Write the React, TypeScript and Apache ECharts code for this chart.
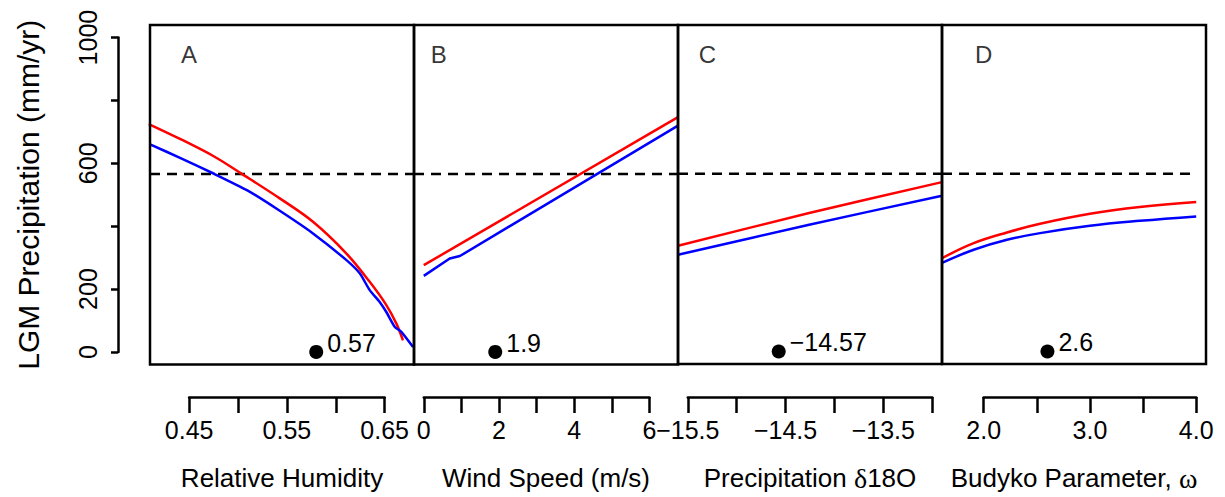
import React, { useEffect, useRef } from "react";
import * as echarts from "echarts";

// ---------- data ----------
const panelLetters = ["A", "B", "C", "D"];
const letterX = [0.45, 0.4, -15.3, 2.0];
const letterY = 945;

const xTitles = [
  "Relative Humidity",
  "Wind Speed (m/s)",
  "Precipitation {g|δ}18O",
  "Budyko Parameter, {g|ω}",
];

const xMin = [0.41, -0.26, -15.6, 1.608];
const xMax = [0.68, 6.76, -12.9, 4.092];

const tickMin = [0.45, 0, -15.5, 2.0];
const tickMax = [0.65, 6, -13.0, 4.0];
const tickStep = [0.05, 1, 0.5, 0.5];
const labeledTicks = [
  [0.45, 0.55, 0.65],
  [0, 2, 4, 6],
  [-15.5, -14.5, -13.5],
  [2, 3, 4],
];
const labeledTickText = [
  ["0.45", "0.55", "0.65"],
  ["0", "2", "4", "6"],
  ["\u221215.5", "\u221214.5", "\u221213.5"],
  ["2.0", "3.0", "4.0"],
];

const yMin = -40;
const yMax = 1040;
const yTickMin = 0;
const yTickMax = 1000;
const yTickStep = 200;
const yLabeled = [0, 200, 600, 1000];
const yTitle = "LGM Precipitation (mm/yr)";

const threshold = 566;
const dashStart = [0.41, -0.26, -15.6, 1.608];
const dashEnd = [0.68, 6.76, -12.9, 4.0];

const redA = [
  [0.4087, 725], [0.4418, 676], [0.476, 621], [0.5031, 568], [0.5427, 488.5],
  [0.5767, 414], [0.6109, 313], [0.6347, 223], [0.6517, 149], [0.662, 90],
  [0.6687, 37],
];
const blueA = [
  [0.4095, 661], [0.4418, 616], [0.476, 566], [0.51, 513], [0.5427, 449],
  [0.5767, 377], [0.6109, 292], [0.6245, 250], [0.6347, 196.5], [0.6449, 159],
  [0.6517, 127], [0.6602, 80], [0.667, 64], [0.679, 16],
];
const redB = [[0, 276], [6.76, 747]];
const blueB = [[0, 242], [0.69, 297], [0.96, 305], [6.76, 720]];
const redC = [[-15.6, 336.6], [-14.259, 440.8], [-12.9, 539.5]];
const blueC = [[-15.6, 308], [-14.259, 403.5], [-12.9, 496]];
const redD = [
  [1.608, 297], [1.906, 345], [2.219, 379], [2.531, 406.7], [3.0, 438.5],
  [3.469, 459.9], [4.0, 475.8],
];
const blueD = [
  [1.608, 282], [1.906, 323.9], [2.219, 355.7], [2.531, 377], [3.0, 400.3],
  [3.469, 416], [4.0, 430],
];
const redSeries = [redA, redB, redC, redD];
const blueSeries = [blueA, blueB, blueC, blueD];
const redSmooth = [0.35, 0, 0.3, 0.4];
const blueSmooth = [0.2, 0, 0.3, 0.4];

const dotX = [0.58, 1.9, -14.57, 2.6];
const dotY = 0;
const dotLabels = ["0.57", "1.9", "\u221214.57", "2.6"];

// ---------- layout ----------
const FONT = "'Liberation Sans', Arial, Helvetica, sans-serif";
const W = 1225;
const H = 497;
const PANEL_LEFT0 = 150;
const PANEL_W = 264;
const PLOT_TOP = 25;
const PLOT_H = 339.5;
const XAXIS_Y = 397;
const YAXIS_X = 118;
const LW = 2.5;

function buildOption() {
  const grids: any[] = [];
  const xAxes: any[] = [];
  const yAxes: any[] = [];
  const series: any[] = [];

  const near = (a: number, b: number) => Math.abs(a - b) < 1e-6;

  for (let i = 0; i < 4; i++) {
    const left = PANEL_LEFT0 + i * PANEL_W;
    grids.push({
      left,
      top: PLOT_TOP,
      width: PANEL_W,
      height: PLOT_H,
      show: true,
      borderColor: "#000",
      borderWidth: LW,
      backgroundColor: "transparent",
      containLabel: false,
      z: 10,
    });
    xAxes.push({
      gridIndex: i,
      type: "value",
      min: xMin[i],
      max: xMax[i],
      axisLine: { show: false },
      axisTick: { show: false },
      axisLabel: { show: false },
      splitLine: { show: false },
      name: xTitles[i],
      nameLocation: "middle",
      nameGap: 100,
      nameTextStyle: {
        fontSize: 26,
        fontFamily: FONT,
        color: "#000",
        rich: { g: { fontSize: 28, fontFamily: "'Liberation Serif', serif", color: "#000" } },
      },
    });
    yAxes.push({ gridIndex: i, type: "value", min: yMin, max: yMax, show: false });
  }

  // separate tick axes (offset below the box, spanning the tick range)
  for (let i = 0; i < 4; i++) {
    const left0 = PANEL_LEFT0 + i * PANEL_W;
    const scale = PANEL_W / (xMax[i] - xMin[i]);
    const gl = left0 + (tickMin[i] - xMin[i]) * scale;
    const gw = (tickMax[i] - tickMin[i]) * scale;
    grids.push({ left: gl, width: gw, top: XAXIS_Y - 1, height: 1, containLabel: false });
    const lv = labeledTicks[i];
    const lt = labeledTickText[i];
    xAxes.push({
      gridIndex: 4 + i,
      type: "value",
      min: tickMin[i],
      max: tickMax[i],
      interval: tickStep[i],
      axisLine: { show: true, lineStyle: { color: "#000", width: LW } },
      axisTick: { show: true, inside: false, length: 16, lineStyle: { color: "#000", width: LW } },
      axisLabel: {
        show: true,
        margin: 20,
        fontSize: 25,
        fontFamily: FONT,
        color: "#000",
        showMinLabel: true,
        showMaxLabel: true,
        hideOverlap: false,
        formatter: (v: number) => {
          for (let k = 0; k < lv.length; k++) if (near(v, lv[k])) return lt[k];
          return "";
        },
      },
      splitLine: { show: false },
    });
    yAxes.push({ gridIndex: 4 + i, type: "value", min: 0, max: 1, show: false });
  }

  // shared y axis
  const scaleY = PLOT_H / (yMax - yMin);
  const yTop = PLOT_TOP + (yMax - yTickMax) * scaleY;
  const yH = (yTickMax - yTickMin) * scaleY;
  grids.push({ left: YAXIS_X, top: yTop, width: 1, height: yH, containLabel: false });
  xAxes.push({ gridIndex: 8, type: "value", show: false, min: 0, max: 1 });
  yAxes.push({
    gridIndex: 8,
    type: "value",
    position: "left",
    min: yTickMin,
    max: yTickMax,
    interval: yTickStep,
    axisLine: { show: true, lineStyle: { color: "#000", width: LW } },
    axisTick: { show: true, inside: false, length: 7, lineStyle: { color: "#000", width: LW } },
    axisLabel: {
      show: true,
      rotate: 90,
      margin: 18,
      fontSize: 25,
      fontFamily: FONT,
      color: "#000",
      showMinLabel: true,
      showMaxLabel: true,
      hideOverlap: false,
      formatter: (v: number) => (yLabeled.some((t) => near(t, v)) ? String(v) : ""),
    },
    splitLine: { show: false },
    name: yTitle,
    nameLocation: "middle",
    nameGap: 75,
    nameTextStyle: { fontSize: 30, fontFamily: FONT, color: "#000" },
  });

  for (let i = 0; i < 4; i++) {
    series.push({
      type: "line",
      xAxisIndex: i,
      yAxisIndex: i,
      data: [[dashStart[i], threshold], [dashEnd[i], threshold]],
      symbol: "none",
      lineStyle: { color: "#000", width: LW, type: [10, 7] },
      silent: true,
      z: 3,
    });
    series.push({
      type: "line",
      xAxisIndex: i,
      yAxisIndex: i,
      data: redSeries[i],
      symbol: "none",
      smooth: redSmooth[i],
      clip: true,
      lineStyle: { color: "#ff0000", width: LW },
      z: 4,
    });
    series.push({
      type: "line",
      xAxisIndex: i,
      yAxisIndex: i,
      data: blueSeries[i],
      symbol: "none",
      smooth: blueSmooth[i],
      clip: true,
      lineStyle: { color: "#0000ff", width: LW },
      z: 5,
    });
    series.push({
      type: "scatter",
      xAxisIndex: i,
      yAxisIndex: i,
      data: [[dotX[i], dotY]],
      symbol: "circle",
      symbolSize: 14,
      itemStyle: { color: "#000", opacity: 1 },
      label: {
        show: true,
        position: "right",
        distance: 4,
        offset: [0, -9],
        formatter: dotLabels[i],
        fontSize: 25,
        fontFamily: FONT,
        color: "#000",
      },
      z: 6,
    });
    series.push({
      type: "scatter",
      xAxisIndex: i,
      yAxisIndex: i,
      data: [[letterX[i], letterY]],
      symbol: "circle",
      symbolSize: 1,
      itemStyle: { color: "rgba(0,0,0,0)" },
      label: {
        show: true,
        position: "inside",
        formatter: panelLetters[i],
        fontSize: 24,
        fontFamily: FONT,
        color: "#000",
      },
      silent: true,
      z: 6,
    });
  }

  return {
    animation: false,
    backgroundColor: "#fff",
    grid: grids,
    xAxis: xAxes,
    yAxis: yAxes,
    series,
  };
}

export default function App() {
  const ref = useRef<HTMLDivElement>(null);
  useEffect(() => {
    document.body.style.margin = "0";
    if (!ref.current) return;
    const chart = echarts.init(ref.current, undefined, { renderer: "svg" });
    chart.setOption(buildOption() as any);
    return () => chart.dispose();
  }, []);
  return <div ref={ref} style={{ width: W, height: H }} />;
}
